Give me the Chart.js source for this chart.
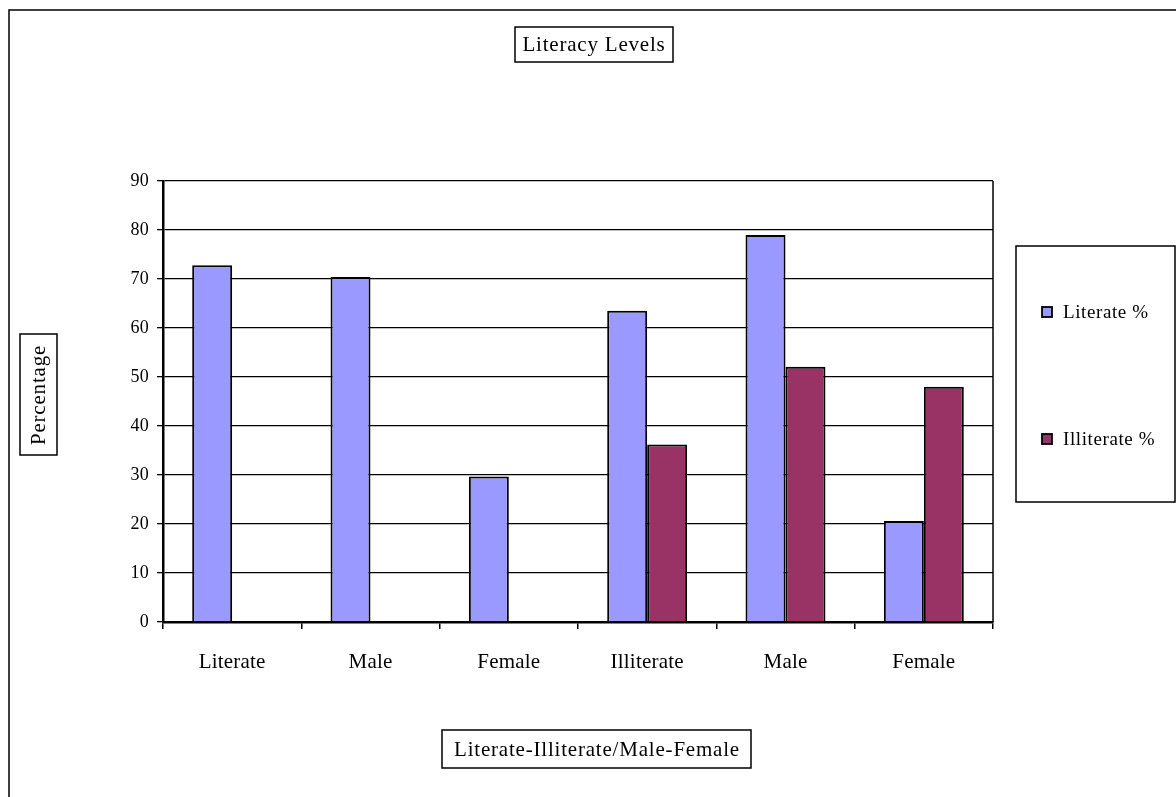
<!DOCTYPE html>
<html>
<head>
<meta charset="utf-8">
<script src="https://cdn.jsdelivr.net/npm/chart.js@4"></script>
<style>
  html, body { margin: 0; padding: 0; background: #fff; }
  #wrap { width: 1176px; height: 797px; }
</style>
</head>
<body>
<div id="wrap"><canvas id="literacyChart" width="1176" height="797"></canvas></div>
<script>
var categories = ["Literate", "Male", "Female", "Illiterate", "Male", "Female"];
var literatePct = [72.8, 70.4, 29.7, 63.5, 79.0, 20.6];
var illiteratePct = [null, null, null, 36.2, 52.1, 48.0];
var yTicks = [0, 10, 20, 30, 40, 50, 60, 70, 80, 90];

var FONT = "'Liberation Serif', 'DejaVu Serif', serif";

// wider tracking like the original sheet fonts
// (y axis draws first, x axis is on z 1 so it draws after the bars)
var tracking = {
  id: "tracking",
  beforeDraw: function (chart) {
    chart.ctx.letterSpacing = "0.2px";
  },
  beforeDatasetsDraw: function (chart) {
    chart.ctx.letterSpacing = "1px";
  }
};

// boxes, frame and legend drawn by hand
var boxes = {
  id: "boxes",
  afterDraw: function (chart) {
    var c = chart.ctx;
    var a = chart.chartArea;
    c.save();
    c.strokeStyle = "#000";
    c.fillStyle = "#000";

    // outer frame (cut off at right and bottom)
    c.lineWidth = 1.5;
    c.strokeRect(9, 10, 1300, 1000);

    // right edge of plot
    c.beginPath();
    c.moveTo(a.right, a.top);
    c.lineTo(a.right, a.bottom);
    c.stroke();

    c.lineWidth = 1.5;
    c.font = "21px " + FONT;
    c.letterSpacing = "0.8px";
    c.textAlign = "center";
    c.textBaseline = "middle";

    // title
    c.strokeRect(515, 27, 158, 35);
    c.fillText("Literacy Levels", 594, 45);

    // x title
    c.strokeRect(442, 730, 309, 38);
    c.fillText("Literate-Illiterate/Male-Female", 597, 750);

    // y title
    c.strokeRect(20, 334, 37, 121);
    c.save();
    c.translate(39, 395);
    c.rotate(-Math.PI / 2);
    c.fillText("Percentage", 0, 0);
    c.restore();

    // legend
    c.strokeRect(1016, 246, 159, 256);
    var ys = [312, 439];
    c.textAlign = "left";
    c.font = "19px " + FONT;
    c.letterSpacing = "0.6px";
    chart.data.datasets.forEach(function (ds, i) {
      c.fillStyle = ds.backgroundColor;
      c.fillRect(1042, ys[i] - 5, 10, 10);
      c.lineWidth = 1.8;
      c.strokeRect(1042, ys[i] - 5, 10, 10);
      c.fillStyle = "#000";
      c.fillText(ds.label, 1063, ys[i] + 1);
    });
    c.restore();
  }
};

var ctx = document.getElementById("literacyChart").getContext("2d");
var literacyChart = new Chart(ctx, {
  type: "bar",
  data: {
    labels: categories,
    datasets: [
      {
        label: "Literate %",
        data: literatePct,
        backgroundColor: "#9999FF",
        borderColor: "#000",
        borderWidth: 2,
        categoryPercentage: 0.578,
        barPercentage: 1.0,
      },
      {
        label: "Illiterate %",
        data: illiteratePct,
        backgroundColor: "#993366",
        borderColor: "#000",
        borderWidth: 2,
        categoryPercentage: 0.578,
        barPercentage: 1.0,
      },
    ],
  },
  options: {
    responsive: false,
    animation: false,
    devicePixelRatio: 1,
    layout: { padding: { left: 0, right: 183, top: 181, bottom: 0 } },
    plugins: {
      legend: { display: false },
      title: { display: false },
      tooltip: { enabled: false },
    },
    scales: {
      x: {
        z: 1,
        offset: true,
        grid: {
          offset: true,
          drawOnChartArea: false,
          drawTicks: true,
          tickLength: 7,
          color: "#000",
          lineWidth: 1.5,
        },
        border: { color: "#000", width: 2.5 },
        ticks: {
          color: "#000",
          font: { family: FONT, size: 21 },
          padding: 21,
          maxRotation: 0,
        },
        afterFit: function (scale) { scale.height = 175; },
      },
      y: {
        min: 0,
        max: 90,
        afterBuildTicks: function (scale) {
          scale.ticks = yTicks.map(function (v) { return { value: v }; });
        },
        grid: {
          color: "#000",
          lineWidth: 1.3,
          tickLength: 6,
        },
        border: { color: "#000", width: 2.5 },
        ticks: {
          color: "#000",
          font: { family: FONT, size: 18 },
          padding: 8,
        },
        afterFit: function (scale) { scale.width = 163; },
      },
    },
  },
  plugins: [tracking, boxes],
});
</script>
</body>
</html>
